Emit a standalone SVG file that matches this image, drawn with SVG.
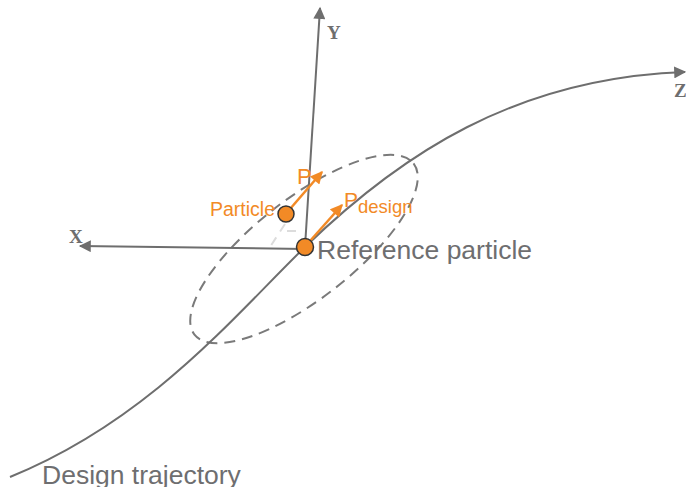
<svg xmlns="http://www.w3.org/2000/svg" width="686" height="487" viewBox="0 0 686 487">
<style>
.axis{stroke:#6e6e6e;stroke-width:2;fill:none}
.ax-label{font-family:"Liberation Serif",serif;font-weight:bold;font-size:19px;fill:#6e6e6e}
.gray-text{font-family:"Liberation Sans",Arial,sans-serif;font-size:26.5px;fill:#6e6e70}
.orange-text{font-family:"Liberation Sans",Arial,sans-serif;fill:#f28a26}
.dot{fill:#f28a26;stroke:#333;stroke-width:1.5}
.vec{stroke:#f28a26;stroke-width:2.5;fill:none}
.faint{stroke:#dcdcdc;stroke-width:2;stroke-dasharray:9 7;fill:none}
</style>
<defs>
<marker id="ga" viewBox="0 0 10 10" refX="9" refY="5" markerWidth="6.5" markerHeight="6" orient="auto" markerUnits="strokeWidth">
<path d="M0,0 L10,5 L0,10 z" fill="#6e6e6e"/>
</marker>
<marker id="oa" viewBox="0 0 10 10" refX="9" refY="5" markerWidth="5.5" markerHeight="5" orient="auto" markerUnits="strokeWidth">
<path d="M0,0 L10,5 L0,10 z" fill="#f28a26"/>
</marker>
</defs>
<rect width="686" height="487" fill="#fff"/>
<g id="connectors">
<ellipse cx="304" cy="249" rx="139" ry="50" transform="rotate(-38 304 249)" fill="none" stroke="#7a7a7a" stroke-width="2" stroke-dasharray="11 7"/>
<path class="faint" d="M285,224 L268,250"/>
<path class="faint" d="M287,231 L303,231"/>
<path id="trajectory" class="axis" d="M10,477 C150,420 235,315 305,247 C400,155 515,78 685,72" marker-end="url(#ga)"/>
<path id="y-axis" class="axis" d="M305,247 L320,8" marker-end="url(#ga)"/>
<path id="x-axis" class="axis" d="M305,249 L80,246" marker-end="url(#ga)"/>
<path class="vec" d="M290,209 L322,172" marker-end="url(#oa)"/>
<path class="vec" d="M310,241 L342,205" marker-end="url(#oa)"/>
</g>
<g id="axis-labels">
<text class="ax-label" x="327" y="39">Y</text>
<text class="ax-label" x="69" y="243">X</text>
<text class="ax-label" x="674" y="97">Z</text>
</g>
<g id="particle">
<circle class="dot" cx="286" cy="214" r="8"/>
<text class="orange-text" x="210" y="216" font-size="19.5">Particle</text>
</g>
<g id="reference-particle">
<circle class="dot" cx="305" cy="247" r="8.5"/>
<text class="gray-text" x="317" y="259">Reference particle</text>
</g>
<g id="p-label">
<text class="orange-text" x="297" y="184" font-size="22">P</text>
</g>
<g id="pdesign-label">
<text class="orange-text" x="344" y="207" font-size="21">P<tspan font-size="18.5" dy="6">design</tspan></text>
</g>
<g id="design-trajectory-label">
<text class="gray-text" x="42" y="484">Design trajectory</text>
</g>
</svg>
